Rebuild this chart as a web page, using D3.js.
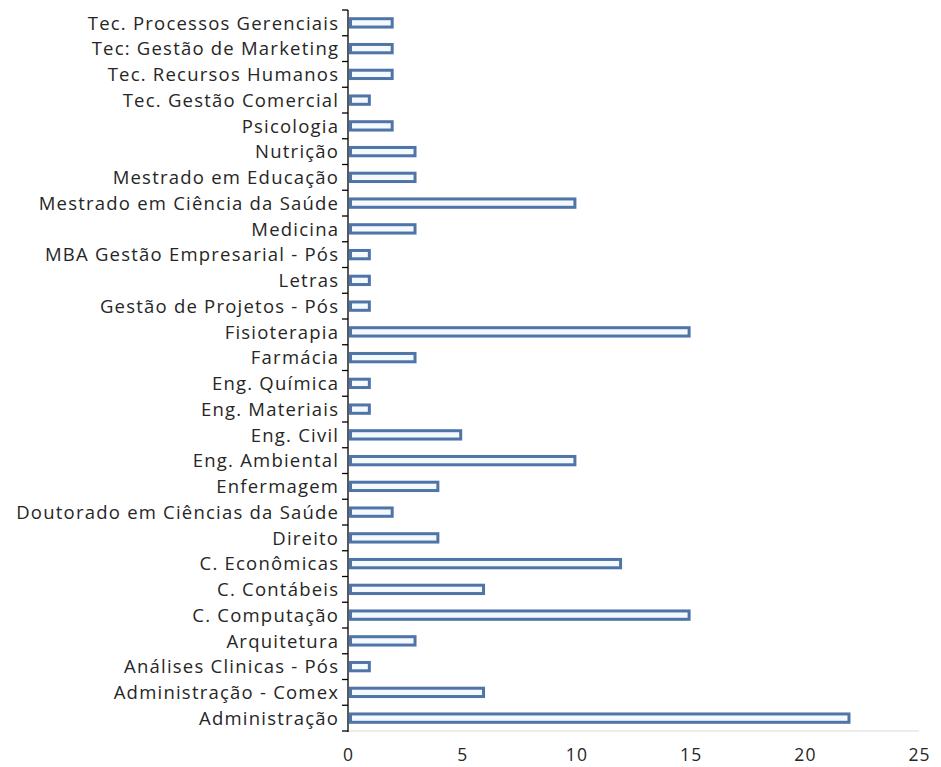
<!DOCTYPE html>
<html>
<head>
<meta charset="utf-8">
<script src="https://cdn.jsdelivr.net/npm/d3@7"></script>
<style>
html,body{margin:0;padding:0;background:#fff;}
svg{display:block;}
</style>
</head>
<body>
<svg id="chart" width="941" height="767"></svg>
<script>
const categories = [
  "Tec. Processos Gerenciais",
  "Tec: Gestão de Marketing",
  "Tec. Recursos Humanos",
  "Tec. Gestão Comercial",
  "Psicologia",
  "Nutrição",
  "Mestrado em Educação",
  "Mestrado em Ciência da Saúde",
  "Medicina",
  "MBA Gestão Empresarial - Pós",
  "Letras",
  "Gestão de Projetos - Pós",
  "Fisioterapia",
  "Farmácia",
  "Eng. Química",
  "Eng. Materiais",
  "Eng. Civil",
  "Eng. Ambiental",
  "Enfermagem",
  "Doutorado em Ciências da Saúde",
  "Direito",
  "C. Econômicas",
  "C. Contábeis",
  "C. Computação",
  "Arquitetura",
  "Análises Clinicas - Pós",
  "Administração - Comex",
  "Administração"
];
const values = [2,2,2,1,2,3,3,10,3,1,1,1,15,3,1,1,5,10,4,2,4,12,6,15,3,1,6,22];
const xTicks = [0,5,10,15,20,25];

(function(){
const svg = d3.select("#chart");
const mLeft = 348, mRight = 919, mTop = 10, mBottom = 731;

const x = d3.scaleLinear().domain([0,25]).range([mLeft,mRight]);
const y = d3.scaleBand().domain(categories).range([mTop,mBottom]).paddingInner(0.56).paddingOuter(0.28);

svg.append("line")
  .attr("x1", mLeft).attr("x2", mRight)
  .attr("y1", mBottom).attr("y2", mBottom)
  .attr("stroke", "#d9d9d9").attr("stroke-width", 1);

const sw = 3;
svg.append("g").selectAll("rect").data(categories).join("rect")
  .attr("x", x(0) + sw/2 + 1)
  .attr("y", d => y(d) + sw/2)
  .attr("width", (d,i) => Math.max(0, x(values[i]) - x(0) - sw - 1))
  .attr("height", y.bandwidth() - sw)
  .attr("fill", "#f4f9fe")
  .attr("stroke", "#4f74a8")
  .attr("stroke-width", sw);

svg.append("line")
  .attr("x1", mLeft).attr("x2", mLeft)
  .attr("y1", mTop).attr("y2", mBottom + 1)
  .attr("stroke", "#000").attr("stroke-width", 1.3);

const step = (mBottom - mTop) / categories.length;
const bounds = d3.range(categories.length + 1).map(i => mTop + i * step);
svg.append("g").selectAll("line").data(bounds).join("line")
  .attr("x1", mLeft - 6).attr("x2", mLeft)
  .attr("y1", d => d).attr("y2", d => d)
  .attr("stroke", "#000").attr("stroke-width", 1.3);

const labels = svg.append("g").selectAll("text").data(categories).join("text")
  .attr("x", 338)
  .attr("y", d => y(d) + y.bandwidth()/2)
  .attr("dy", "0.36em")
  .attr("text-anchor", "end")
  .attr("font-family", "'Open Sans', sans-serif")
  .attr("font-size", 18.5)
  .attr("fill", "#262626")
  .text(d => d);

let maxW = 0, maxN = 1;
labels.each(function(d){ const w = this.getComputedTextLength(); if (w > maxW) { maxW = w; maxN = d.length; } });
const ls = Math.max(0, (323 - maxW) / maxN);
labels.attr("letter-spacing", ls + "px").attr("x", 338 + ls);

svg.append("g").selectAll("text").data(xTicks).join("text")
  .attr("x", d => x(d) + ls / 2)
  .attr("y", 761)
  .attr("text-anchor", "middle")
  .attr("font-family", "'Open Sans', sans-serif")
  .attr("font-size", 17.5)
  .attr("letter-spacing", ls + "px")
  .attr("fill", "#262626")
  .text(d => d);
})();
</script>
</body>
</html>
